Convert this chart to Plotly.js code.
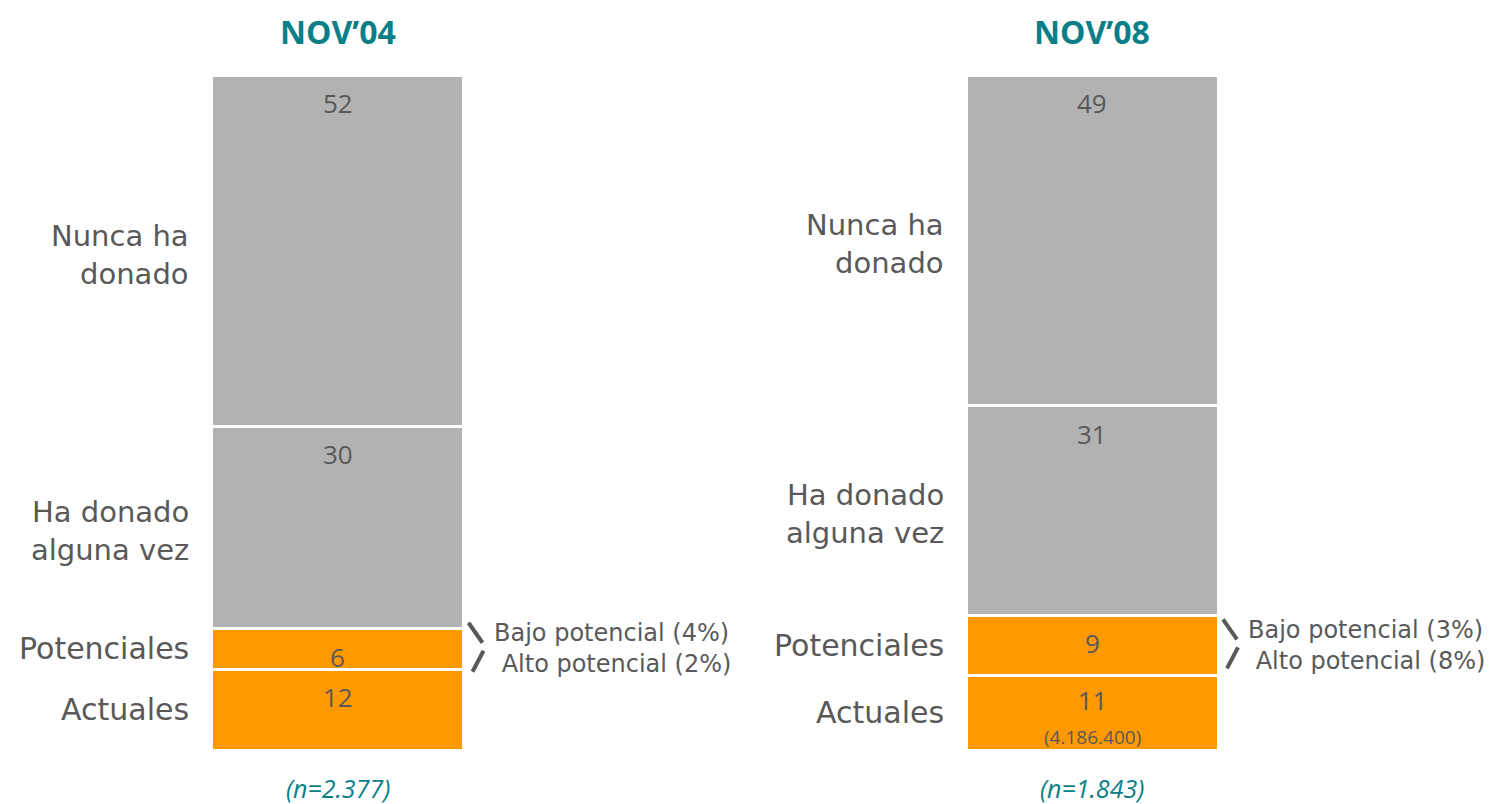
<!DOCTYPE html>
<html>
<head>
<meta charset="utf-8">
<script src="https://cdn.plot.ly/plotly-3.0.1.min.js"></script>
<style>html,body{margin:0;padding:0;background:#fff;}#chart{width:1503px;height:804px;}</style>
</head>
<body>
<div id="chart"></div>
<script>
// ---- data ----
var periods = ["NOV\u201904", "NOV\u201908"];
var sampleSizes = ["2.377", "1.843"];
var segmentNames = ["Actuales", "Potenciales", "Ha donado alguna vez", "Nunca ha donado"];
var segmentLabels = ["Actuales", "Potenciales", "Ha donado<br>alguna vez", "Nunca ha<br>donado"];
var actuales = [12, 11];
var potenciales = [6, 9];
var haDonado = [30, 31];
var nuncaDonado = [52, 49];
var bajoPotencial = [4, 3];
var altoPotencial = [2, 8];
var actualesPoblacion = [null, "4.186.400"];

var seriesValues = [actuales, potenciales, haDonado, nuncaDonado];
var seriesColors = ["#FF9900", "#FF9900", "#B2B2B2", "#B2B2B2"];

var TXT = "#595959";
var TEAL = "#0A7F88";
var BAR_W = 0.334;
var xs = periods.map(function (p, i) { return i; });

var traces = seriesValues.map(function (vals, k) {
  return {
    type: "bar",
    x: xs,
    y: vals,
    name: segmentNames[k],
    width: BAR_W,
    marker: { color: seriesColors[k], line: { color: "#ffffff", width: 3 } },
    hoverinfo: "skip"
  };
});

var annotations = [];
var shapes = [];

periods.forEach(function (p, i) {
  // title
  annotations.push({
    xref: "x", yref: "paper", x: i, y: 1, yshift: 44, yanchor: "middle",
    text: "<b>" + p + "</b>", showarrow: false,
    font: { family: "Open Sans, sans-serif", size: 32, color: TEAL }
  });
  // sample size
  annotations.push({
    xref: "x", yref: "paper", x: i, y: 0, yshift: -38, yanchor: "middle",
    text: "<i>(n=" + sampleSizes[i] + ")</i>", showarrow: false,
    font: { family: "Open Sans, sans-serif", size: 25, color: TEAL }
  });

  var base = 0;
  var centers = [];
  seriesValues.forEach(function (vals, k) {
    var v = vals[i];
    var top = base + v;
    var center = base + v / 2;
    centers.push(center);
    // value label near top of segment (with population below for Actuales when known)
    var extra = (k === 0 && actualesPoblacion[i]);
    annotations.push({
      xref: "x", yref: "y", x: i, y: top, yshift: extra ? -40 : -28, yanchor: "middle",
      text: extra ? (String(v) + "<br><span style=\"font-size:19px\">(" + actualesPoblacion[i] + ")</span>") : String(v),
      showarrow: false,
      font: { family: "Open Sans, sans-serif", size: 26, color: TXT }
    });
    // category label on the left
    var multi = segmentLabels[k].indexOf("<br>") >= 0;
    annotations.push({
      xref: "x", yref: "y", x: i - BAR_W / 2, xshift: -20, xanchor: "right",
      y: center, yshift: multi ? -4 : 0, yanchor: "middle", align: "right",
      text: segmentLabels[k], showarrow: false,
      font: { family: "DejaVu Sans, sans-serif", size: multi ? 29 : 30, color: TXT }
    });
    base = top;
  });

  // potential breakdown on the right of the Potenciales segment
  var pc = centers[1];
  annotations.push({
    xref: "x", yref: "y", x: i + BAR_W / 2, xshift: 28, xanchor: "left",
    y: pc, yshift: 0, yanchor: "middle", align: "left",
    text: "Bajo potencial (" + bajoPotencial[i] + "%)<br> Alto potencial (" + altoPotencial[i] + "%)",
    showarrow: false,
    font: { family: "DejaVu Sans, sans-serif", size: 24, color: TXT }
  });
  shapes.push({
    type: "line", xref: "x", yref: "y",
    xsizemode: "pixel", ysizemode: "pixel",
    xanchor: i + BAR_W / 2, yanchor: pc,
    x0: 5, y0: 26, x1: 19, y1: 6,
    line: { color: TXT, width: 4 }
  });
  shapes.push({
    type: "line", xref: "x", yref: "y",
    xsizemode: "pixel", ysizemode: "pixel",
    xanchor: i + BAR_W / 2, yanchor: pc,
    x0: 20, y0: -2, x1: 9, y1: -23,
    line: { color: TXT, width: 4 }
  });
});

var layout = {
  width: 1503, height: 804,
  margin: { l: 0, r: 0, t: 75, b: 54, pad: 0 },
  barmode: "stack",
  showlegend: false,
  hovermode: false,
  paper_bgcolor: "#ffffff",
  plot_bgcolor: "#ffffff",
  xaxis: { range: [-0.4473, 1.5447], visible: false, fixedrange: true },
  yaxis: { range: [0, 100], visible: false, fixedrange: true },
  annotations: annotations,
  shapes: shapes
};

Plotly.newPlot("chart", traces, layout, { staticPlot: true, displayModeBar: false });
</script>
</body>
</html>
